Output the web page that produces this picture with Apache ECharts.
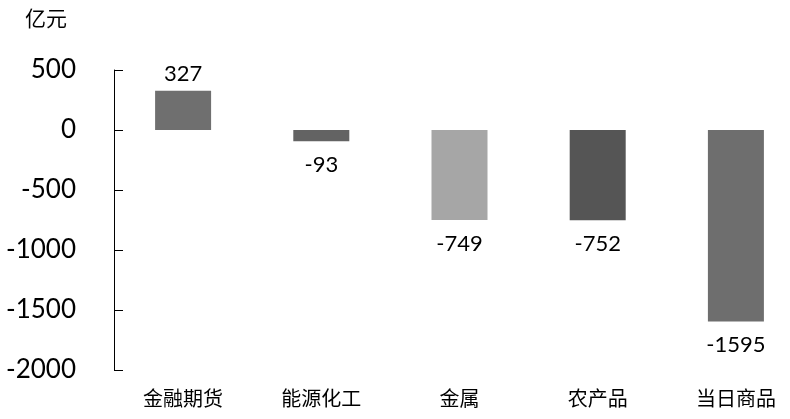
<!DOCTYPE html>
<html><head><meta charset="utf-8">
<script src="https://cdn.jsdelivr.net/npm/echarts@6/dist/echarts.min.js"></script>
<style>html,body{margin:0;padding:0;background:#fff}#c{width:790px;height:419px}</style>
</head><body><div id="c"></div>
<script>
var categories = ['金融期货','能源化工','金属','农产品','当日商品'];
var values = [327, -93, -749, -752, -1595];
var colors = ['#6f6f6f','#636363','#a6a6a6','#555555','#6e6e6e'];
var yTicks = [-2000, -1500, -1000, -500, 0, 500];

var chart = echarts.init(document.getElementById('c'));
chart.setOption({
  animation: false,
  backgroundColor: '#fff',
  graphic: [{type:'text', left: 25, top: 8, style:{text:'亿元', font:'21px "Noto Sans CJK SC"', fill:'#000'}}],
  grid: {left: 114, top: 70, width: 691, height: 300, outerBoundsMode: 'none', containLabel: false},
  xAxis: {
    type: 'category', data: categories,
    axisLine: {show: false}, axisTick: {show: false},
    axisLabel: {color:'#000', fontSize: 20, fontFamily:'"Noto Sans CJK SC"', margin: 18}
  },
  yAxis: {
    type: 'value', min: yTicks[0], max: yTicks[yTicks.length-1], interval: 500,
    splitLine: {show: false},
    axisLine: {show: true, lineStyle: {color:'#000', width: 1}},
    axisTick: {show: true, inside: true, length: 9, lineStyle: {color:'#000'}},
    axisLabel: {color:'#000', fontSize: 26, fontFamily:'Lato', margin: 38,
      formatter: function(v){ return String(v); }}
  },
  series: [{
    type: 'bar', barWidth: 56,
    data: values.map(function(v,i){
      return {value: v, itemStyle:{color: colors[i]},
        label:{show:true, position: v>=0?'top':'bottom', distance: v>=0?6:13,
          color:'#000', fontSize: 22, fontFamily:'Lato',
          formatter: function(p){ return String(p.value); }}};
    })
  }]
});
</script></body></html>
